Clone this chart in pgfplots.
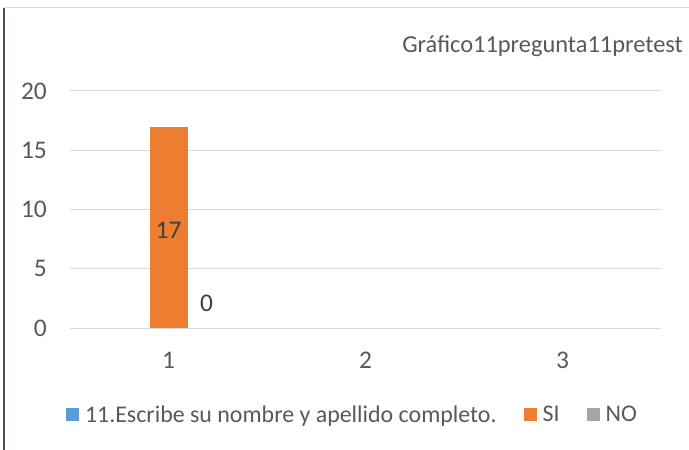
\documentclass[border=0pt]{standalone}
\usepackage{pgfplots}
\pgfplotsset{compat=1.18}
\usepackage{fontspec}
\setmainfont{Carlito}
\definecolor{sBlue}{HTML}{5B9BD5}
\definecolor{sOrange}{HTML}{ED7D31}
\definecolor{sGray}{HTML}{A5A5A5}
\definecolor{gridc}{HTML}{D9D9D9}
\definecolor{txt}{HTML}{595959}
\definecolor{lbl}{HTML}{404040}
\definecolor{frameL}{HTML}{44546A}
\begin{document}
\begin{tikzpicture}
\path[use as bounding box] (0,0) rectangle (689bp,450bp);
\fill[white] (0,0) rectangle (689bp,450bp);
\draw[frameL, line width=1.5bp] (4bp,0) -- (4bp,442bp);
\draw[gridc, line width=1bp] (4bp,442bp) -- (689bp,442bp);
\begin{axis}[
  at={(70bp,122bp)}, anchor=south west,
  scale only axis, width=591bp, height=237bp,
  ybar, bar width=38bp,
  xmin=0.5, xmax=3.5, ymin=0, ymax=20,
  xtick={1,2,3}, ytick={0,5,10,15,20},
  ymajorgrids, major grid style={gridc, line width=1bp},
  axis line style={draw=none},
  major tick length=0pt,
  /pgf/number format/assume math mode=true,
  tick label style={font=\fontsize{25.5}{28}\selectfont, text=txt},
  yticklabel style={anchor=east, inner sep=0pt, xshift=-23bp},
  xticklabel style={anchor=center, inner sep=0pt, yshift=-32bp},
  legend columns=3,
  legend style={draw=none, fill=none, at={(axis description cs:0.478,-0.365)}, anchor=center,
    font=\fontsize{24}{28}\selectfont, text=txt,
    /tikz/every odd column/.append style={column sep=4bp},
    /tikz/every even column/.append style={column sep=25bp},
    nodes={inner sep=2bp}},
  legend cell align=left,
]
\addplot[fill=sBlue, draw=none, bar shift=-38bp,
  legend image code/.code={\fill[sBlue] (0bp,-6.5bp) rectangle (13bp,6.5bp);}]
  coordinates {(1,0)};
\addplot[fill=sOrange, draw=none, bar shift=0bp,
  nodes near coords, every node near coord/.append style={anchor=center, yshift=-103.5bp, text=lbl, font=\fontsize{25.5}{28}\selectfont},
  legend image code/.code={\fill[sOrange] (0bp,-6.5bp) rectangle (13bp,6.5bp);}]
  coordinates {(1,17)};
\addplot[fill=sGray, draw=none, bar shift=38bp,
  nodes near coords, every node near coord/.append style={anchor=center, yshift=25bp, text=lbl, font=\fontsize{25.5}{28}\selectfont},
  legend image code/.code={\fill[sGray] (0bp,-6.5bp) rectangle (13bp,6.5bp);}]
  coordinates {(1,0)};
\legend{11.Escribe su nombre y apellido completo., SI, NO}
\end{axis}
\node[anchor=east, text=txt, font=\fontsize{24.5}{28}\selectfont, inner sep=0pt] at (683bp,404bp) {Gráfico11pregunta11pretest};
\end{tikzpicture}
\end{document}
